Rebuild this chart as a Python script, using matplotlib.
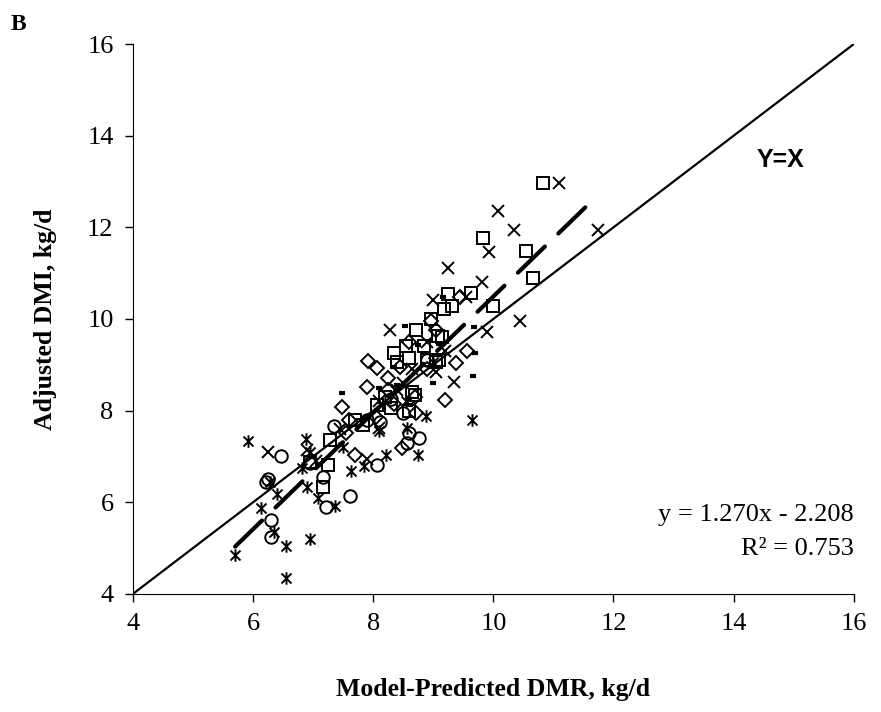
import matplotlib.pyplot as plt
from matplotlib.path import Path
import numpy as np

plt.rcParams['font.family'] = ['Liberation Serif', 'DejaVu Serif']

# data (Model-predicted DMR, adjusted DMI), kg/d
circ_x = [6.25, 6.22, 6.30, 6.30, 6.46, 7.16, 7.21, 7.34, 7.61, 8.06, 8.11, 8.56, 8.76, 8.50, 8.60, 8.90, 8.30, 7.90, 6.95]
circ_y = [6.50, 6.45, 5.62, 5.25, 7.01, 6.55, 5.90, 7.67, 6.14, 6.82, 7.76, 7.30, 7.40, 7.95, 7.50, 9.10, 8.25, 7.80, 6.85]

sq_x = [10.82, 9.82, 10.54, 10.66, 9.62, 9.24, 9.31, 9.17, 9.99, 8.96, 8.71, 9.07, 8.55, 8.35, 8.85, 8.90, 9.05,
        9.10, 8.60, 8.40, 8.06, 8.30, 8.70, 8.65, 7.69, 7.83, 7.28, 6.95, 7.24, 7.16, 8.60, 9.15, 8.20]
sq_y = [12.97, 11.77, 11.49, 10.90, 10.57, 10.55, 10.29, 10.22, 10.29, 10.00, 9.76, 9.63, 9.40, 9.25, 9.40, 9.10, 9.05,
        9.10, 9.15, 9.05, 8.13, 8.05, 8.35, 8.40, 7.80, 7.69, 7.36, 6.88, 6.82, 6.34, 8.00, 9.60, 8.30]

dia_x = [7.91, 8.06, 7.89, 7.48, 7.69, 9.37, 9.56, 9.19, 8.48, 8.25, 8.44, 8.72, 9.44, 8.96, 8.25, 8.70, 9.05,
         8.60, 7.60, 8.05, 8.90, 8.35, 7.55]
dia_y = [9.09, 8.93, 8.52, 8.08, 7.03, 9.04, 9.30, 8.24, 7.19, 8.72, 8.96, 7.95, 10.47, 9.96, 8.45, 8.30, 9.75,
         9.50, 7.80, 7.85, 8.90, 8.15, 7.50]

xm_x = [11.10, 10.07, 10.34, 9.92, 9.24, 9.81, 9.00, 9.54, 10.44, 8.28, 9.89, 11.75, 9.35, 8.65, 8.90, 8.10,
        6.25, 6.90, 7.45, 8.10, 7.90, 9.05, 8.50, 7.05, 8.40, 9.20]
xm_y = [12.97, 12.36, 11.95, 11.47, 11.12, 10.81, 10.42, 10.47, 9.96, 9.76, 9.72, 11.95, 8.62, 8.90, 9.50, 8.20,
        7.10, 7.15, 7.60, 7.62, 6.95, 8.85, 8.60, 6.90, 8.45, 9.30]

st_x = [5.70, 6.55, 6.55, 6.95, 6.35, 5.91, 6.88, 6.95, 6.81, 7.63, 7.84, 6.90, 7.08, 6.40, 6.13, 7.36, 6.28,
        9.64, 8.88, 8.56, 8.21, 8.74, 8.10, 7.50, 8.55, 9.00]
st_y = [4.85, 5.05, 4.35, 5.20, 5.35, 7.34, 7.38, 7.10, 6.75, 6.69, 6.79, 6.34, 6.10, 6.18, 5.88, 5.92, 6.45,
        7.80, 7.89, 7.62, 7.03, 7.03, 7.55, 7.20, 8.20, 9.05]

dash_x = [8.53, 9.67, 9.16, 7.48, 9.66, 9.69, 8.99, 8.61, 8.74, 8.35, 8.10, 9.10, 8.40]
dash_y = [9.85, 9.83, 10.48, 8.39, 8.76, 9.26, 8.61, 8.13, 9.44, 8.95, 8.50, 9.45, 8.55]

# regression shown on the chart
slope, intercept = 1.270, -2.208
fit_x = [5.70, 11.55]

star = Path([(-1, -1), (1, 1), (-1, 1), (1, -1), (0, -1.25), (0, 1.25)],
            [Path.MOVETO, Path.LINETO, Path.MOVETO, Path.LINETO, Path.MOVETO, Path.LINETO])

fig = plt.figure(figsize=(8.81, 7.12), dpi=100)
ax = fig.add_axes([0.151, 0.166, 0.818, 0.772])

ax.plot([4, 16], [4, 16], color='black', lw=1.6, zorder=2)
fx = np.array(fit_x)
ax.plot(fx, slope * fx + intercept, color='black', lw=3, dashes=(9, 4.5),
        dash_capstyle='round', zorder=4)

kw = dict(linestyle='none', color='black', markerfacecolor='none', mew=1.4, zorder=3)
ax.plot(circ_x, circ_y, marker='o', ms=9, **kw)
ax.plot(sq_x, sq_y, marker='s', ms=9, **kw)
ax.plot(dia_x, dia_y, marker='D', ms=7, **kw)
ax.plot(xm_x, xm_y, marker='x', ms=8, **kw)
ax.plot(st_x, st_y, marker=star, ms=9, **kw)
ax.plot(dash_x, dash_y, marker='_', ms=5, linestyle='none', color='black', mew=3, zorder=3)

ax.set_xlim(4, 16)
ax.set_ylim(4, 16)
ax.set_xticks(range(4, 17, 2))
ax.set_yticks(range(4, 17, 2))
ax.tick_params(direction='out', length=6, width=1, labelsize=19, pad=8)
ax.spines['top'].set_visible(False)
ax.spines['right'].set_visible(False)

ax.set_xlabel('Model-Predicted DMR, kg/d', fontsize=18.5, fontweight='bold', labelpad=31)
ax.set_ylabel('Adjusted DMI, kg/d', fontsize=18.5, fontweight='bold', labelpad=22)

ax.text(14.38, 13.47, 'Y=X', family='Liberation Sans', fontweight='bold', fontsize=18,
        va='center', ha='left')
ax.text(16.0, 5.72, 'y = 1.270x - 2.208', fontsize=19, ha='right', va='center')
ax.text(16.0, 4.98, 'R² = 0.753', fontsize=19, ha='right', va='center')

fig.text(0.012, 0.965, 'B', fontsize=17, fontweight='bold', va='center')

fig.savefig('out.png', dpi=100)
